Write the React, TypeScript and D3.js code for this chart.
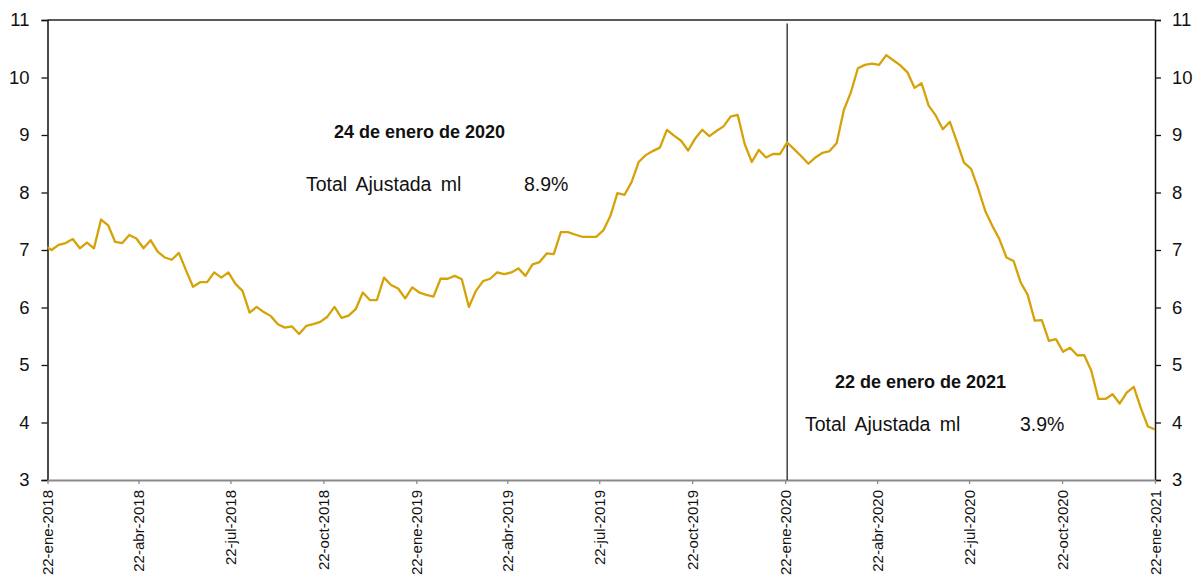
import { FC, useEffect, useRef, RefObject } from 'react';
import * as d3 from 'd3';

// weekly observations (Fridays), first one 19-ene-2018, last one 22-ene-2021
const firstWeek = new Date(2018, 0, 19);

const values = [
    7.08, 7.00, 7.09, 7.12, 7.19, 7.03, 7.13, 7.03, 7.53, 7.43,
    7.14, 7.12, 7.26, 7.20, 7.03, 7.17, 6.97, 6.87, 6.83, 6.95,
    6.65, 6.36, 6.44, 6.44, 6.61, 6.52, 6.61, 6.41, 6.29, 5.91,
    6.01, 5.92, 5.85, 5.71, 5.65, 5.67, 5.54, 5.68, 5.71, 5.75,
    5.84, 6.01, 5.82, 5.86, 5.97, 6.26, 6.13, 6.13, 6.52, 6.39,
    6.33, 6.16, 6.35, 6.26, 6.22, 6.19, 6.50, 6.50, 6.55, 6.49,
    6.01, 6.29, 6.46, 6.50, 6.61, 6.58, 6.61, 6.68, 6.55, 6.75,
    6.79, 6.94, 6.93, 7.31, 7.31, 7.27, 7.23, 7.23, 7.23, 7.34,
    7.59, 7.99, 7.96, 8.18, 8.53, 8.65, 8.72, 8.78, 9.09, 8.99,
    8.90, 8.73, 8.94, 9.09, 8.98, 9.07, 9.15, 9.32, 9.35, 8.84,
    8.53, 8.74, 8.61, 8.67, 8.67, 8.87, 8.75, 8.63, 8.50, 8.61,
    8.69, 8.72, 8.86, 9.43, 9.74, 10.16, 10.22, 10.24, 10.22, 10.39,
    10.30, 10.21, 10.09, 9.82, 9.90, 9.51, 9.34, 9.10, 9.23, 8.88,
    8.52, 8.41, 8.07, 7.68, 7.42, 7.19, 6.87, 6.81, 6.44, 6.22,
    5.77, 5.78, 5.42, 5.45, 5.23, 5.30, 5.17, 5.17, 4.90, 4.41,
    4.41, 4.49, 4.33, 4.52, 4.62, 4.25, 3.93, 3.88
];

const tickDates = [
    new Date(2018, 0, 22), new Date(2018, 3, 22), new Date(2018, 6, 22), new Date(2018, 9, 22),
    new Date(2019, 0, 22), new Date(2019, 3, 22), new Date(2019, 6, 22), new Date(2019, 9, 22),
    new Date(2020, 0, 22), new Date(2020, 3, 22), new Date(2020, 6, 22), new Date(2020, 9, 22),
    new Date(2021, 0, 22)
];
const monthNames = ['ene', 'feb', 'mar', 'abr', 'may', 'jun', 'jul', 'ago', 'sep', 'oct', 'nov', 'dic'];
const yTicks = [3, 4, 5, 6, 7, 8, 9, 10, 11];

const markerDate = new Date(2020, 0, 24);
const notes = [
    { title: '24 de enero de 2020', label: 'Total Ajustada ml', value: '8.9%' },
    { title: '22 de enero de 2021', label: 'Total Ajustada ml', value: '3.9%' }
];

const App: FC = () => {
    const svgRef = useRef<SVGSVGElement>(null);

    function draw(svgRef: RefObject<SVGSVGElement>) {
        const width = 1198;
        const height = 576;
        const left = 47.5, right = 1155, top = 20, bottom = 480;
        const font = "'Liberation Sans', Arial, sans-serif";
        const gold = "#D5A208";

        const svg = d3.select(svgRef.current)
            .attr("width", width)
            .attr("height", height);
        svg.selectAll("*").remove();

        const data = values.map((v, i) => ({ date: d3.timeDay.offset(firstWeek, i * 7), value: v }));

        const x = d3.scaleTime()
            .domain([tickDates[0], tickDates[tickDates.length - 1]])
            .range([left, right]);
        const y = d3.scaleLinear().domain([3, 11]).range([bottom, top]);

        svg.append("clipPath").attr("id", "plot-clip")
            .append("rect")
            .attr("x", left).attr("y", top)
            .attr("width", right - left).attr("height", bottom - top);

        // top border
        svg.append("line")
            .attr("x1", left).attr("x2", right)
            .attr("y1", top).attr("y2", top)
            .attr("stroke", "#222").attr("stroke-width", 1.3);

        // left axis
        const yLeft = svg.append("g")
            .attr("transform", `translate(${left},0)`)
            .call(d3.axisLeft(y).tickValues(yTicks).tickSize(6).tickPadding(12).tickFormat(d3.format("d")));
        // right axis
        const yRight = svg.append("g")
            .attr("transform", `translate(${right},0)`)
            .call(d3.axisRight(y).tickValues(yTicks).tickSize(6).tickPadding(11).tickFormat(d3.format("d")));

        [yLeft, yRight].forEach(g => {
            g.select(".domain").attr("stroke", "#111").attr("stroke-width", 1.5);
            g.selectAll(".tick line").attr("stroke", "#111").attr("stroke-width", 1.3);
            g.selectAll(".tick text")
                .attr("font-family", font)
                .attr("font-size", "18.5px")
                .attr("fill", "#111");
        });

        // bottom axis
        const xAxis = svg.append("g")
            .attr("transform", `translate(0,${bottom})`)
            .call(d3.axisBottom(x).tickValues(tickDates).tickSize(4).tickSizeOuter(0)
                .tickFormat((d: any) => `${d.getDate()}-${monthNames[d.getMonth()]}-${d.getFullYear()}`));
        xAxis.select(".domain").attr("stroke", "#8a8a8a").attr("stroke-width", 1.8);
        xAxis.selectAll(".tick line").attr("stroke", "#8a8a8a").attr("stroke-width", 1.3);
        xAxis.selectAll(".tick text")
            .attr("font-family", font)
            .attr("font-size", "15px")
            .attr("fill", "#111")
            .attr("text-anchor", "end")
            .attr("transform", "rotate(-90)")
            .attr("x", -10)
            .attr("y", 0)
            .attr("dy", "0.35em");

        // marker line
        svg.append("line")
            .attr("x1", x(markerDate)).attr("x2", x(markerDate))
            .attr("y1", top + 3.5).attr("y2", bottom)
            .attr("stroke", "#333").attr("stroke-width", 1.4);

        const line = d3.line<{ date: Date, value: number }>()
            .x(d => x(d.date))
            .y(d => y(d.value));

        svg.append("path")
            .datum(data)
            .attr("clip-path", "url(#plot-clip)")
            .attr("fill", "none")
            .attr("stroke", gold)
            .attr("stroke-width", 2.3)
            .attr("stroke-linejoin", "round")
            .attr("d", line);

        // annotations
        const notePos = [
            { tx: 334, ty: 138, lx: 306, vx: 524, ly: 191 },
            { tx: 835, ty: 388, lx: 805, vx: 1020, ly: 431 }
        ];
        notes.forEach((n, i) => {
            const p = notePos[i];
            svg.append("text")
                .attr("x", p.tx).attr("y", p.ty)
                .attr("font-family", font).attr("font-size", "18px").attr("font-weight", "bold")
                .attr("fill", "#111")
                .text(n.title);
            svg.append("text")
                .attr("x", p.lx).attr("y", p.ly)
                .attr("font-family", font).attr("font-size", "19.5px")
                .attr("fill", "#111")
                .attr("word-spacing", "4px")
                .text(n.label);
            svg.append("text")
                .attr("x", p.vx).attr("y", p.ly)
                .attr("font-family", font).attr("font-size", "19.5px")
                .attr("fill", "#111")
                .text(n.value);
        });
    }

    useEffect(() => {
        draw(svgRef);
    }, [svgRef]);

    return (
        <div style={{ position: 'absolute', left: 0, top: 0 }}>
            <svg ref={svgRef} style={{ display: 'block' }}></svg>
        </div>
    );
};

export default App;
